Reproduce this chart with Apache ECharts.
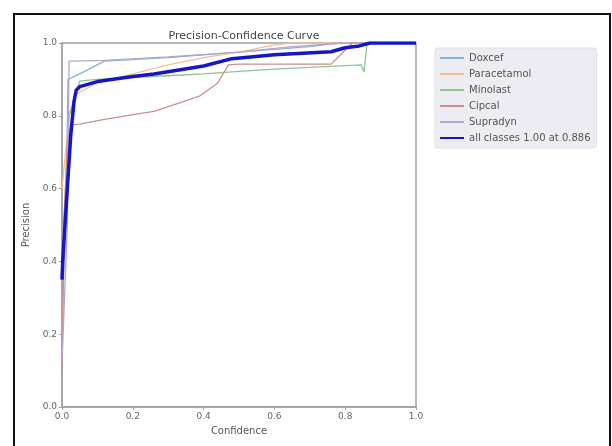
<!DOCTYPE html>
<html>
<head>
<meta charset="utf-8">
<script src="https://cdn.jsdelivr.net/npm/echarts@6/dist/echarts.min.js"></script>
<style>
html,body{margin:0;padding:0;background:#fff;}
#chart{width:612px;height:446px;}
</style>
</head>
<body>
<div id="chart"></div>
<script>
// Data: [confidence, precision]
const doxcef = [[0,0.2],[0.012,0.6],[0.017,0.9],[0.05,0.915],[0.12,0.95],[0.3,0.96],[0.5,0.975],[0.7,0.99],[0.78,1.0],[1.0,1.0]];
const paracetamol = [[0,0.6],[0.02,0.8],[0.04,0.86],[0.1,0.89],[0.2,0.915],[0.3,0.94],[0.4,0.96],[0.5,0.975],[0.6,0.995],[0.65,1.0],[1.0,1.0]];
const minolast = [[0,0.4],[0.02,0.8],[0.05,0.895],[0.1,0.9],[0.2,0.905],[0.3,0.91],[0.4,0.915],[0.5,0.922],[0.6,0.928],[0.7,0.933],[0.8,0.938],[0.845,0.94],[0.853,0.92],[0.862,1.0],[1.0,1.0]];
const cipcal = [[0,0.1],[0.005,0.5],[0.015,0.73],[0.025,0.775],[0.05,0.777],[0.12,0.79],[0.2,0.803],[0.26,0.812],[0.33,0.835],[0.39,0.855],[0.44,0.89],[0.47,0.94],[0.5,0.942],[0.76,0.942],[0.8,0.98],[0.82,1.0],[1.0,1.0]];
const supradyn = [[0,0.12],[0.015,0.5],[0.02,0.95],[0.12,0.952],[0.3,0.962],[0.5,0.975],[0.65,0.99],[0.8,1.0],[1.0,1.0]];
const allClasses = [[0,0.35],[0.002,0.40],[0.013,0.57],[0.025,0.75],[0.034,0.84],[0.04,0.87],[0.05,0.88],[0.1,0.894],[0.2,0.908],[0.26,0.915],[0.4,0.937],[0.48,0.957],[0.6,0.968],[0.76,0.976],[0.8,0.987],[0.84,0.992],[0.87,1.0],[1.0,1.0]];
const seriesNames = ['Doxcef','Paracetamol','Minolast','Cipcal','Supradyn','all classes 1.00 at 0.886'];
const xTicks = [0,0.2,0.4,0.6,0.8,1.0];
const yTicks = [0,0.2,0.4,0.6,0.8,1.0];

const colors = ['#86b4d4','#f4c08e','#8fc48f','#c98f8d','#b4a4d4','#1616c8'];
const dataSets = [doxcef, paracetamol, minolast, cipcal, supradyn, allClasses];

const chart = echarts.init(document.getElementById('chart'), null, {renderer:'canvas'});
const series = dataSets.map((d, i) => ({
  name: seriesNames[i],
  type: 'line',
  data: d,
  symbol: 'none',
  showSymbol: false,
  smooth: false,
  z: i === 5 ? 10 : 2,
  lineStyle: { color: colors[i], width: i === 5 ? 3.5 : 1.3 },
  itemStyle: { color: colors[i] }
}));

chart.setOption({
  animation: false,
  backgroundColor: '#ffffff',
  title: {
    text: 'Precision-Confidence Curve',
    left: 239, top: 26, textAlign: 'center',
    textStyle: { fontSize: 11, fontWeight: 'normal', color: '#444', fontFamily: 'DejaVu Sans' }
  },
  grid: { left: 62, top: 43, width: 354, height: 364, show: true, borderColor: '#a0a0a0', borderWidth: 1.5, backgroundColor: 'transparent' },
  legend: {
    data: seriesNames,
    orient: 'vertical',
    left: 435, top: 48,
    itemWidth: 24, itemHeight: 10, itemGap: 6,
    padding: [5, 6, 5, 4],
    itemStyle: { opacity: 0 },
    backgroundColor: '#ececf2',
    borderColor: '#e0e0e6', borderWidth: 1, borderRadius: 3,
    textStyle: { fontSize: 10, color: '#555', fontFamily: 'DejaVu Sans' }
  },
  xAxis: {
    type: 'value', min: 0, max: 1, interval: 0.2,
    name: 'Confidence', nameLocation: 'middle', nameGap: 19,
    nameTextStyle: { fontSize: 10, color: '#555', fontFamily: 'DejaVu Sans' },
    axisLine: { show: true, lineStyle: { color: '#a0a0a0', width: 1.5 } },
    axisTick: { show: true, length: 3, lineStyle: { color: '#a0a0a0' } },
    splitLine: { show: false },
    axisLabel: { fontSize: 9, color: '#666', margin: 5, fontFamily: 'DejaVu Sans',
      formatter: v => xTicks.includes(+v.toFixed(1)) ? v.toFixed(1) : '' }
  },
  yAxis: {
    type: 'value', min: 0, max: 1, interval: 0.2,
    name: 'Precision', nameLocation: 'middle', nameGap: 31, nameRotate: 90,
    nameTextStyle: { fontSize: 10, color: '#555', fontFamily: 'DejaVu Sans' },
    axisLine: { show: true, lineStyle: { color: '#a0a0a0', width: 1.5 } },
    axisTick: { show: true, length: 3, lineStyle: { color: '#a0a0a0' } },
    splitLine: { show: false },
    axisLabel: { fontSize: 9, color: '#666', margin: 5, fontFamily: 'DejaVu Sans',
      formatter: v => yTicks.includes(+v.toFixed(1)) ? v.toFixed(1) : '' }
  },
  graphic: [{
    type: 'rect', silent: true, z: 100,
    shape: { x: 14, y: 14, width: 596, height: 460 },
    style: { fill: 'none', stroke: '#111', lineWidth: 2 }
  }],
  series: series
});
</script>
</body>
</html>
